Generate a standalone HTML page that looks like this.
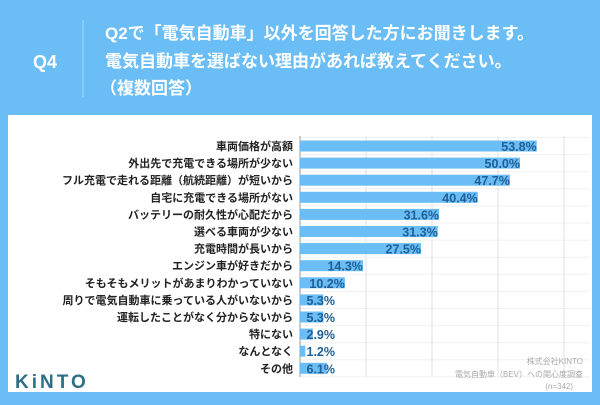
<!DOCTYPE html>
<html><head><meta charset="utf-8"><style>
body{margin:0;width:600px;height:400px;overflow:hidden;background:#6bbdf5;font-family:"Liberation Sans","Noto Sans CJK JP",sans-serif}
</style></head><body>
<svg width="600" height="400" xmlns="http://www.w3.org/2000/svg">
<rect x="0" y="0" width="600" height="400" fill="#6bbdf5"/>
<text x="45" y="68" font-size="18" font-weight="bold" fill="#fff" text-anchor="middle">Q4</text>
<line x1="83" y1="20" x2="83" y2="97" stroke="#a9d8f8" stroke-width="1"/>
<g font-size="17" font-weight="bold" fill="#fff">
<text x="105" y="39">Q2で「電気自動車」以外を回答した方にお聞きします。</text>
<text x="105" y="67">電気自動車を選ばない理由があれば教えてください。</text>
<text x="100" y="94">（複数回答）</text>
</g>
<rect x="8" y="115" width="584" height="277" fill="#fff"/>
<g id="grid"></g><g id="bars"></g>
<g font-size="8" fill="#aaa" text-anchor="end">
<text x="583" y="364">株式会社KINTO</text>
<text x="583" y="377">電気自動車（BEV）への関心度調査</text>
<text x="573" y="389">(n=342)</text>
</g>
<text x="15" y="388" font-size="19" font-weight="bold" fill="#2e6f86" letter-spacing="3">KiNTO</text>
</svg>
<script>
const categories=["車両価格が高額","外出先で充電できる場所が少ない","フル充電で走れる距離（航続距離）が短いから","自宅に充電できる場所がない","バッテリーの耐久性が心配だから","選べる車両が少ない","充電時間が長いから","エンジン車が好きだから","そもそもメリットがあまりわかっていない","周りで電気自動車に乗っている人がいないから","運転したことがなく分からないから","特にない","なんとなく","その他"];
const values=[53.8,50.0,47.7,40.4,31.6,31.3,27.5,14.3,10.2,5.3,5.3,2.9,1.2,6.1];
const gridTicks=[15,30,45,60];
const NS="http://www.w3.org/2000/svg";
const x0=300,pxPer=4.4,y0=146,step=17.1;
const xs=v=>x0+v*pxPer, ys=i=>y0+i*step;
function mk(t,a,p){const e=document.createElementNS(NS,t);for(const k in a)e.setAttribute(k,a[k]);p.appendChild(e);return e;}
const grid=document.getElementById('grid'),bars=document.getElementById('bars');
for(let i=0;i<=14;i++){const l=mk('line',{x1:300,x2:590,y1:ys(i)-8.5,y2:ys(i)-8.5,stroke:'#f0f0f0'},grid);

}
gridTicks.forEach(t=>{const l=mk('line',{x1:xs(t),x2:xs(t),y1:136,y2:377,stroke:'#e2e2e2'},grid);

});
const ax=mk('line',{x1:300,x2:300,y1:136,y2:377,stroke:'#999'},grid);


categories.forEach((c,i)=>{
const y=ys(i);
const r=mk('rect',{x:x0,y:y-5.5,width:xs(values[i])-x0,height:11,fill:'#6bbdf5'},bars);


const lb=mk('text',{x:293,y:y+4,'font-size':11,'font-weight':'bold',fill:'#222','text-anchor':'end'},bars);lb.textContent=c;


const vx=Math.max(xs(values[i]),301+34);
const vl=mk('text',{x:vx,y:y+5,'font-size':12.5,'font-weight':'bold',fill:'#1f5f95','text-anchor':'end'},bars);vl.textContent=values[i].toFixed(1)+'%';


});
</script>
</body></html>
